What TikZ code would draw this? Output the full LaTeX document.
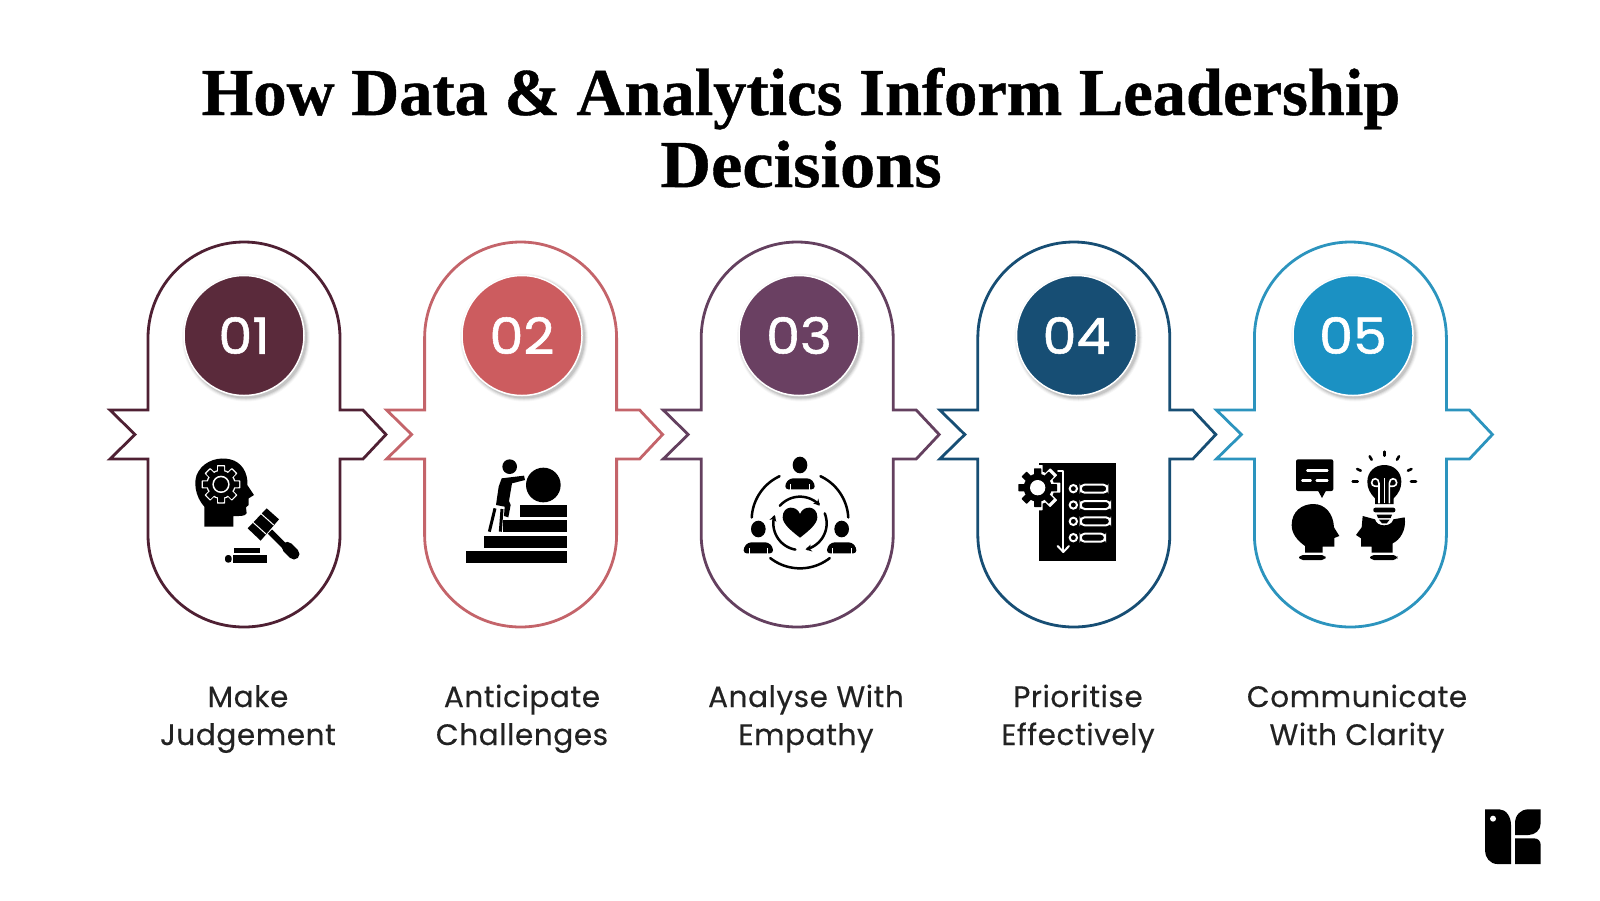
\documentclass[tikz,border=0pt]{standalone}
\usepackage{fontspec}
\usetikzlibrary{arrows.meta}
\newfontfamily\titlef[FakeStretch=0.9925,FakeBold=0.6]{Liberation Serif Bold}
\newfontfamily\titlefb[FakeStretch=1.05,FakeBold=0.6]{Liberation Serif Bold}
\newfontfamily\labelf[LetterSpace=2,FakeBold=0.35]{Poppins}
\newfontfamily\numf[FakeStretch=1.08,FakeBold=1.1]{Poppins}
\definecolor{cA}{HTML}{5A2A3B}\definecolor{sA}{HTML}{4F2033}
\definecolor{cB}{HTML}{CC5C5F}\definecolor{sB}{HTML}{C4646A}
\definecolor{cC}{HTML}{6A4062}\definecolor{sC}{HTML}{64405F}
\definecolor{cD}{HTML}{174E74}\definecolor{sD}{HTML}{174E74}
\definecolor{cE}{HTML}{1B91C3}\definecolor{sE}{HTML}{2C94BE}
\definecolor{ink}{HTML}{222222}
\tikzset{
  titletext/.style={font=\titlef\fontsize{67}{78}\selectfont,text=black,anchor=base,inner sep=0pt},
  titletextb/.style={font=\titlefb\fontsize{67}{78}\selectfont,text=black,anchor=base,inner sep=0pt},
  labeltext/.style={font=\labelf\fontsize{29.5}{36}\selectfont,text=ink,anchor=base,inner sep=0pt},
  numdisc/.style={circle,minimum size=120pt,inner sep=0pt,draw=white,line width=1.5pt,text=white,font=\numf\fontsize{50}{54}\selectfont},
  zoomA/.style={shift={(#1)},x=0.33333pt,y=-0.33333pt},
  thick line/.style={line width=2.5pt,line cap=round,black},
}
% gear: cx cy body-radius tip-radius teeth half-width colour
\newcommand{\mygear}[7]{%
  \begin{scope}[shift={(#1,#2)}]
    \fill[#7] (0,0) circle (#3);
    \foreach \k in {1,...,#5}{\fill[#7,rotate=\k*360/#5,rounded corners=0.6pt] (-#6,0) rectangle (#6,#4);}
  \end{scope}}
\newcommand{\zarc}[6][]{\draw[thick line,#1] plot[domain=#5:#6,smooth,samples=25,variable=\t] ({#2+#4*cos(\t)},{#3+#4*sin(\t)});}
\newcommand{\pillpath}[2]{%
  \draw[#2,line width=2.8pt,line join=miter]
   (#1,338) .. controls (#1,285) and ({#1+43},242) .. ({#1+96},242)
   .. controls ({#1+149},242) and ({#1+192},285) .. ({#1+192},338)
   -- ({#1+192},410) -- ({#1+215},410) -- ({#1+238},434.5) -- ({#1+215},459) -- ({#1+192},459)
   -- ({#1+192},535) .. controls ({#1+192},586) and ({#1+149},627) .. ({#1+96},627)
   .. controls ({#1+43},627) and (#1,586) .. (#1,535)
   -- (#1,459) -- ({#1-38},459) -- ({#1-13},434.5) -- ({#1-38},410) -- (#1,410) -- cycle;}
\begin{document}
\begin{tikzpicture}[x=1pt,y=-1pt]
\useasboundingbox (0,0) rectangle (1600,900);
\fill[white] (0,0) rectangle (1600,900);
\node[titletext] (title1) at (801,115) {How Data \& Analytics Inform Leadership};
\node[titletextb] (title2) at (801,187) {Decisions};
% pills
\pillpath{148}{sA}\pillpath{424.6}{sB}\pillpath{701.2}{sC}\pillpath{977.8}{sD}\pillpath{1254.4}{sE}
% discs
\foreach \nm/\cx/\col/\tx in {a/244/cA/01,b/522/cB/02,c/799/cC/03,d/1076.5/cD/04,e/1353/cE/05}{
  \foreach \rr/\op in {64/0.03,63/0.05,62/0.07,61/0.09}{
    \fill[black,opacity=\op] (\cx+2,337.5) circle (\rr);}
  \node[numdisc,fill=\col] (disc\nm) at (\cx,335.5) {\tx};
}
% labels
\node[labeltext] (l1a) at (248,707) {Make};
\node[labeltext] (l1b) at (248,745) {Judgement};
\node[labeltext] (l2a) at (522,707) {Anticipate};
\node[labeltext] (l2b) at (522,745) {Challenges};
\node[labeltext] (l3a) at (806,707) {Analyse With};
\node[labeltext] (l3b) at (806,745) {Empathy};
\node[labeltext] (l4a) at (1078,707) {Prioritise};
\node[labeltext] (l4b) at (1078,745) {Effectively};
\node[labeltext] (l5a) at (1357,707) {Communicate};
\node[labeltext] (l5b) at (1357,745) {With Clarity};
% icon 1
\begin{scope}[zoomA={90,230}]
  \fill (343,890) -- (343,830) .. controls (315,800) and (308,750) .. (325,725) .. controls (345,690) and (390,680) .. (420,688)
   .. controls (455,695) and (475,730) .. (472,765) -- (492,795) -- (476,805) -- (476,825) -- (468,832) -- (470,850)
   .. controls (465,860) and (445,858) .. (430,858) -- (430,890) -- cycle;
  \mygear{393}{763}{44}{58}{8}{12}{white}
  \mygear{393}{763}{40}{54}{8}{9}{black}
  \fill[white] (393,763) circle (26);\fill (393,763) circle (21);
  \fill (530,835) -- (567,868) -- (512,932) -- (473,895) -- cycle;
  \draw[white,line width=1pt] (512,850) -- (551,885);\draw[white,line width=1pt] (489,877) -- (528,912);
  \draw[black,line width=6pt] (540,905) -- (590,955);
  \draw[black,line width=11pt,line cap=round] (592,952) -- (612,972);
  \fill (432,953) rectangle (510,968);
  \fill (430,975) rectangle (530,998);
  \fill[rounded corners=3pt] (405,975) rectangle (425,998);
\end{scope}
% icon 2
\begin{scope}[zoomA={440,440}]
  \fill (209,80) circle (22);
  \fill (310,135) circle (52);
  \fill (241,195) rectangle (380,232);
  \fill (188,240) rectangle (380,277);
  \fill (133,287) rectangle (380,323);
  \fill (78,332) rectangle (380,370);
  \fill (185,115) -- (252,107) -- (255,120) -- (216,130) -- (207,183) -- (212,195) -- (205,232) -- (192,228) -- (194,200) -- (168,195) -- (176,140) -- cycle;
  \draw[line width=3pt] (165,205) -- (148,275);
  \draw[line width=3pt] (186,207) -- (181,275);
\end{scope}
% icon 3
\begin{scope}[zoomA={440,440}]
  \foreach \hx/\hy in {1080/75,955/267,1205/267}{
    \fill (\hx,\hy) ellipse (22 and 25);
    \fill[rounded corners=3pt] (\hx-44,\hy+73) -- (\hx-44,\hy+55) -- (\hx-30,\hy+40) -- (\hx+30,\hy+40) -- (\hx+44,\hy+55) -- (\hx+44,\hy+73) -- cycle;
    \draw[white,line width=1pt] (\hx-28,\hy+74) -- (\hx-28,\hy+56);
    \draw[white,line width=1pt] (\hx+28,\hy+74) -- (\hx+28,\hy+56);
  }
  \fill (1080,293) .. controls (1050,270) and (1028,250) .. (1028,232) .. controls (1028,195) and (1070,195) .. (1080,222)
    .. controls (1090,195) and (1132,195) .. (1132,232) .. controls (1132,250) and (1110,270) .. (1080,293);
  \zarc{1080}{240}{145}{183}{245}
  \zarc{1080}{240}{145}{295}{357}
  \zarc{1080}{240}{145}{52}{128}
  \zarc[-{Stealth[length=6pt,width=7pt]}]{1080}{250}{80}{221}{318}
  \zarc[-{Stealth[length=6pt,width=7pt]}]{1080}{250}{80}{-22}{78}
  \zarc[-{Stealth[length=6pt,width=7pt]}]{1080}{250}{80}{100}{198}
\end{scope}
% icon 4
\begin{scope}[zoomA={1000,440}]
  \fill (117,68) rectangle (347,362);
  \mygear{113}{143}{50}{68}{8}{15}{white}
  \mygear{113}{143}{42}{58}{8}{11}{black}
  \fill[white] (113,143) circle (23);
  \draw[white,line width=2pt,line cap=round,line join=round] (174,94) -- (190,94) -- (190,334);
  \draw[white,line width=2pt,line cap=round,line join=round] (173,318) -- (190,336) -- (207,318);
  \foreach \yy/\xe in {146/322,195/330,244/330,293/315}{
    \draw[white,line width=2pt] (220,\yy) circle (11);
    \draw[white,line width=2pt,rounded corners=4pt] (242,\yy-12) rectangle (\xe,\yy+12);
  }
\end{scope}
% icon 5
\begin{scope}[zoomA={1000,440}]
  \fill[rounded corners=2pt] (888,58) rectangle (1000,153);
  \fill (953,150) -- (966,174) -- (979,150) -- cycle;
  \draw[white,line width=2.5pt,line cap=round] (922,92) -- (982,92);
  \draw[white,line width=2.5pt,line cap=round] (907,122) -- (932,122);
  \draw[white,line width=2.5pt,line cap=round] (950,122) -- (982,122);
  \fill (915,338) -- (915,318) .. controls (890,300) and (875,280) .. (875,255) .. controls (875,215) and (905,192) .. (940,192)
    .. controls (975,192) and (1000,220) .. (1002,262) -- (1018,288) -- (1003,294) -- (1003,320) -- (968,320) -- (968,338) -- cycle;
  \fill[rounded corners=4pt] (897,345) rectangle (977,360);
  % bulb
  \fill (1125,192) -- (1125,175) .. controls (1110,160) and (1102,145) .. (1102,125) .. controls (1102,95) and (1125,75) .. (1153,75)
    .. controls (1181,75) and (1204,95) .. (1204,125) .. controls (1204,145) and (1196,160) .. (1181,175) -- (1181,192) -- cycle;
  \draw[white,line width=1.6pt] (1137,190) -- (1137,130) .. controls (1137,112) and (1115,112) .. (1115,128) .. controls (1115,140) and (1130,140) .. (1137,138);
  \draw[white,line width=1.6pt] (1168,190) -- (1168,130) .. controls (1168,112) and (1190,112) .. (1190,128) .. controls (1190,140) and (1175,140) .. (1168,138);
  \draw[white,line width=1.6pt] (1153,190) -- (1153,115);
  \fill[rounded corners=2pt] (1120,203) rectangle (1186,217);
  \fill (1130,224) -- (1176,224) -- (1172,234) -- (1134,234) -- cycle;
  \fill (1137,239) -- (1169,239) -- (1160,250) -- (1146,250) -- cycle;
  \foreach \a/\ra/\rb in {180/80/95,205/78/90,240/76/88,270/78/90,300/76/88,335/78/90,360/80/95}{
    \draw[black,line width=2.6pt,line cap=round] ({1153+\ra*cos(\a)},{125+\ra*sin(\a)}) -- ({1153+\rb*cos(\a)},{125+\rb*sin(\a)});
  }
  % open head
  \fill (1115,338) -- (1115,320) -- (1083,320) -- (1083,295) -- (1068,285) -- (1085,262) -- (1088,228) -- (1125,238)
    .. controls (1130,262) and (1175,262) .. (1180,238) -- (1214,232) .. controls (1220,270) and (1200,300) .. (1178,310) -- (1178,338) -- cycle;
  \fill[rounded corners=4pt] (1110,345) rectangle (1192,360);
\end{scope}
% logo
\begin{scope}[zoomA={1440,780}]
  \fill (135,88) -- (178,88) .. controls (198,88) and (213,110) .. (213,135) -- (213,252) -- (172,252) .. controls (150,252) and (135,232) .. (135,212) -- cycle;
  \fill[white] (159,116) circle (9);
  \fill (225,130) .. controls (225,105) and (242,88) .. (265,88) -- (302,88) -- (302,130) .. controls (302,150) and (285,165) .. (265,165) -- (225,165) -- cycle;
  \fill (225,175) -- (282,175) .. controls (294,175) and (302,183) .. (302,195) -- (302,252) -- (225,252) -- cycle;
\end{scope}
\end{tikzpicture}
\end{document}
